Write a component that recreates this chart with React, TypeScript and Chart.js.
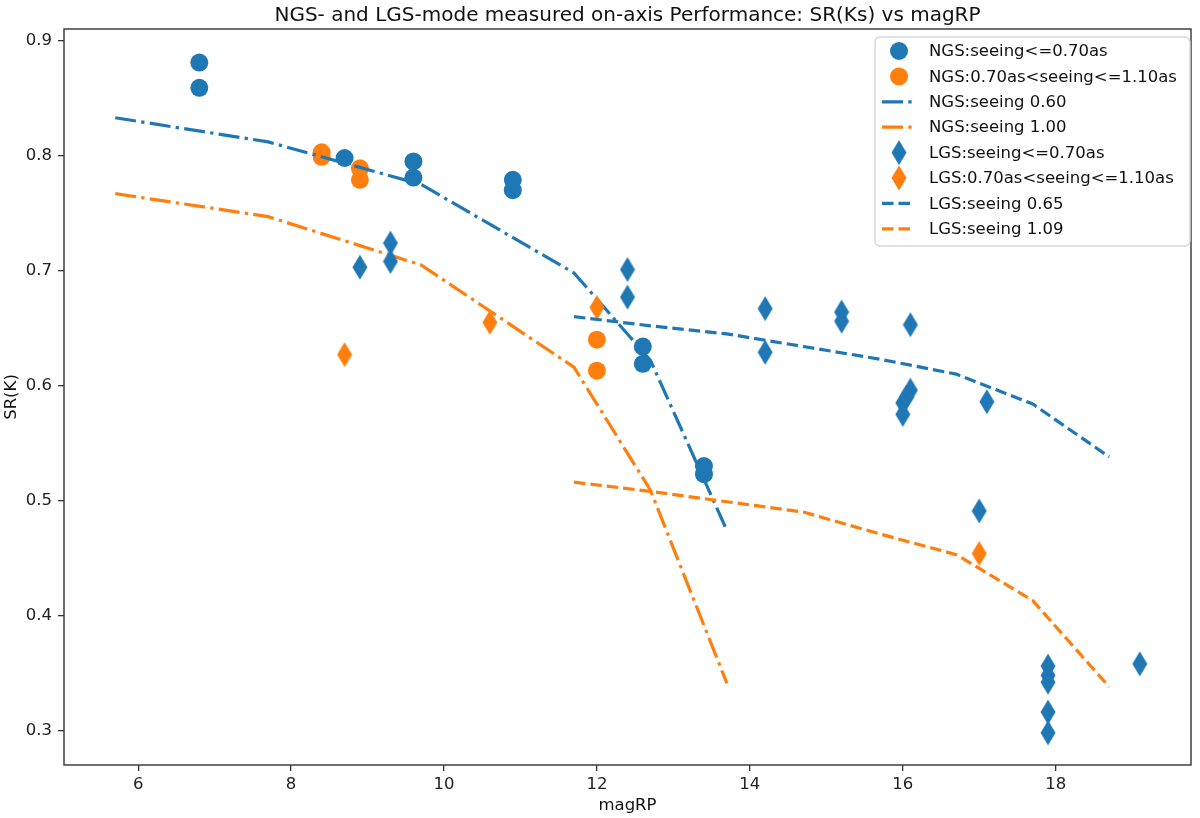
import React, { useEffect, useRef } from 'react';
import { Chart, registerables } from 'chart.js';

Chart.register(...registerables);

const BLUE = '#1f77b4';
const ORANGE = '#ff7f0e';
const FONT = '"DejaVu Sans", sans-serif';

// NGS measured points (circles)
const ngsGoodMag = [6.8, 6.8, 8.7, 9.6, 9.6, 10.9, 10.9, 12.6, 12.6, 13.4, 13.4];
const ngsGoodSR = [0.881, 0.859, 0.798, 0.795, 0.781, 0.779, 0.770, 0.634, 0.619, 0.530, 0.523];
const ngsBadMag = [8.4, 8.4, 8.9, 8.9, 12.0, 12.0];
const ngsBadSR = [0.803, 0.799, 0.789, 0.779, 0.640, 0.613];

// NGS model curves (dash-dot)
const ngsModelMag = [5.7, 7.7, 9.7, 11.7, 12.7, 13.7];
const ngsModel060 = [0.833, 0.812, 0.775, 0.698, 0.622, 0.474];
const ngsModel100 = [0.767, 0.747, 0.705, 0.616, 0.509, 0.341];

// LGS measured points (thin diamonds)
const lgsGoodMag = [8.9, 9.3, 9.3, 12.4, 12.4, 14.2, 14.2, 15.2, 15.2, 16.1, 16.1, 16.05, 16.0, 16.0, 17.1, 17.0, 17.9, 17.9, 17.9, 17.9, 17.9, 19.1];
const lgsGoodSR = [0.703, 0.724, 0.708, 0.701, 0.677, 0.667, 0.629, 0.664, 0.656, 0.653, 0.596, 0.590, 0.585, 0.575, 0.586, 0.491, 0.356, 0.348, 0.342, 0.316, 0.298, 0.358];
const lgsBadMag = [8.7, 10.6, 12.0, 17.0];
const lgsBadSR = [0.627, 0.655, 0.668, 0.454];

// LGS model curves (dashed)
const lgsModelMag = [11.7, 12.7, 13.7, 14.7, 15.7, 16.7, 17.7, 18.7];
const lgsModel065 = [0.660, 0.652, 0.645, 0.634, 0.623, 0.610, 0.584, 0.538];
const lgsModel109 = [0.516, 0.508, 0.499, 0.490, 0.471, 0.453, 0.413, 0.338];

const xTicks = [6, 8, 10, 12, 14, 16, 18];
const yTicks = [0.3, 0.4, 0.5, 0.6, 0.7, 0.8, 0.9];

const TITLE = 'NGS- and LGS-mode measured on-axis Performance: SR(Ks) vs magRP';

const DASHDOT = [21, 5.3, 3.3, 5.3];
const DASHED = [11.5, 5];

const toXY = (xs: number[], ys: number[]) => xs.map((x, i) => ({ x, y: ys[i] }));

// matplotlib 'd' marker: a thin diamond
function thinDiamond(color: string): HTMLCanvasElement {
  const c = document.createElement('canvas');
  c.width = 16;
  c.height = 26;
  const g = c.getContext('2d')!;
  g.fillStyle = color;
  g.beginPath();
  g.moveTo(8, 0.5);
  g.lineTo(15.5, 13);
  g.lineTo(8, 25.5);
  g.lineTo(0.5, 13);
  g.closePath();
  g.fill();
  return c;
}

const frameAndText = {
  id: 'frameAndText',
  afterDatasetsDraw(chart: any) {
    const { ctx, chartArea: a } = chart;
    ctx.save();
    ctx.strokeStyle = '#333';
    ctx.lineWidth = 1.4;
    ctx.strokeRect(a.left, a.top, a.right - a.left, a.bottom - a.top);
    ctx.restore();
  },
  afterDraw(chart: any) {
    const { ctx, chartArea: a } = chart;
    ctx.save();
    ctx.fillStyle = '#111';
    ctx.textAlign = 'center';
    ctx.textBaseline = 'alphabetic';
    ctx.font = `20px ${FONT}`;
    ctx.fillText(TITLE, (a.left + a.right) / 2, 20.5);
    ctx.font = `16.5px ${FONT}`;
    ctx.fillText('magRP', (a.left + a.right) / 2, 810);
    ctx.translate(16, (a.top + a.bottom) / 2);
    ctx.rotate(-Math.PI / 2);
    ctx.fillText('SR(K)', 0, 0);
    ctx.restore();

    // legend box in the upper right of the axes
    const left = 875, top = 37, w = 315, h = 209;
    ctx.save();
    ctx.beginPath();
    ctx.roundRect(left, top, w, h, 5);
    ctx.fillStyle = 'rgba(255,255,255,0.8)';
    ctx.fill();
    ctx.strokeStyle = '#d6d6d6';
    ctx.lineWidth = 1.3;
    ctx.stroke();
    ctx.font = `16.5px ${FONT}`;
    ctx.textAlign = 'left';
    ctx.textBaseline = 'middle';
    chart.data.datasets.forEach((ds: any, i: number) => {
      const cy = 51 + i * 25.4;
      const color = ds.borderColor;
      if (ds.legendKind === 'circle') {
        ctx.fillStyle = color;
        ctx.beginPath();
        ctx.arc(899, cy, 9, 0, Math.PI * 2);
        ctx.fill();
      } else if (ds.legendKind === 'diamond') {
        ctx.drawImage(ds.pointStyle, 899 - 8, cy - 13);
      } else {
        ctx.strokeStyle = color;
        ctx.lineWidth = 3.2;
        ctx.setLineDash(ds.borderDash);
        ctx.beginPath();
        ctx.moveTo(882, cy);
        ctx.lineTo(915, cy);
        ctx.stroke();
        ctx.setLineDash([]);
      }
      ctx.fillStyle = '#111';
      ctx.fillText(ds.label, 929, cy + 1);
    });
    ctx.restore();
  },
};

const App: React.FC = () => {
  const canvasRef = useRef<HTMLCanvasElement>(null);
  const chartRef = useRef<Chart | null>(null);

  useEffect(() => {
    document.body.style.margin = '0';
    if (!canvasRef.current) return;
    if (chartRef.current) chartRef.current.destroy();

    const blueDiamond = thinDiamond(BLUE);
    const orangeDiamond = thinDiamond(ORANGE);

    const marker = (label: string, xs: number[], ys: number[], color: string, kind: string, style: any, order: number) => ({
      label,
      data: toXY(xs, ys),
      legendKind: kind,
      showLine: false,
      pointStyle: style,
      pointRadius: 9,
      pointBorderWidth: 0,
      backgroundColor: color,
      borderColor: color,
      order,
    });
    const curve = (label: string, xs: number[], ys: number[], color: string, dash: number[], order: number) => ({
      label,
      data: toXY(xs, ys),
      legendKind: 'line',
      showLine: true,
      pointRadius: 0,
      borderColor: color,
      backgroundColor: color,
      borderWidth: 3.2,
      borderDash: dash,
      borderCapStyle: 'butt',
      tension: 0,
      order,
    });

    chartRef.current = new Chart(canvasRef.current, {
      type: 'scatter',
      data: {
        datasets: [
          marker('NGS:seeing<=0.70as', ngsGoodMag, ngsGoodSR, BLUE, 'circle', 'circle', 8),
          marker('NGS:0.70as<seeing<=1.10as', ngsBadMag, ngsBadSR, ORANGE, 'circle', 'circle', 7),
          curve('NGS:seeing 0.60', ngsModelMag, ngsModel060, BLUE, DASHDOT, 6),
          curve('NGS:seeing 1.00', ngsModelMag, ngsModel100, ORANGE, DASHDOT, 5),
          marker('LGS:seeing<=0.70as', lgsGoodMag, lgsGoodSR, BLUE, 'diamond', blueDiamond, 4),
          marker('LGS:0.70as<seeing<=1.10as', lgsBadMag, lgsBadSR, ORANGE, 'diamond', orangeDiamond, 3),
          curve('LGS:seeing 0.65', lgsModelMag, lgsModel065, BLUE, DASHED, 2),
          curve('LGS:seeing 1.09', lgsModelMag, lgsModel109, ORANGE, DASHED, 1),
        ] as any,
      },
      options: {
        responsive: true,
        maintainAspectRatio: false,
        animation: false,
        layout: { padding: { top: 29, right: 3, left: 0, bottom: 0 } },
        plugins: {
          legend: { display: false },
          title: { display: false },
          tooltip: { enabled: false },
        },
        scales: {
          x: {
            type: 'linear',
            min: 5.03,
            max: 19.77,
            afterBuildTicks: (s: any) => {
              s.ticks = xTicks.map((v) => ({ value: v }));
            },
            afterFit: (s: any) => {
              s.height = 53;
            },
            grid: { drawOnChartArea: false, drawTicks: true, tickLength: 6, color: '#333', lineWidth: 1.3 },
            border: { display: false },
            ticks: {
              padding: 4,
              color: '#222',
              font: { family: FONT, size: 16.5 },
              callback: (v: any) => String(v),
            },
          },
          y: {
            type: 'linear',
            min: 0.27,
            max: 0.9102,
            afterBuildTicks: (s: any) => {
              s.ticks = yTicks.map((v) => ({ value: v }));
            },
            afterFit: (s: any) => {
              s.width = 64;
            },
            grid: { drawOnChartArea: false, drawTicks: true, tickLength: 6, color: '#333', lineWidth: 1.3 },
            border: { display: false },
            ticks: {
              padding: 6,
              color: '#222',
              font: { family: FONT, size: 16.5 },
              callback: (v: any) => Number(v).toFixed(1),
            },
          },
        },
      },
      plugins: [frameAndText],
    });

    return () => {
      if (chartRef.current) {
        chartRef.current.destroy();
        chartRef.current = null;
      }
    };
  }, []);

  return (
    <div style={{ width: '1200px', height: '818px', background: '#fff' }}>
      <canvas ref={canvasRef}></canvas>
    </div>
  );
};

export default App;
